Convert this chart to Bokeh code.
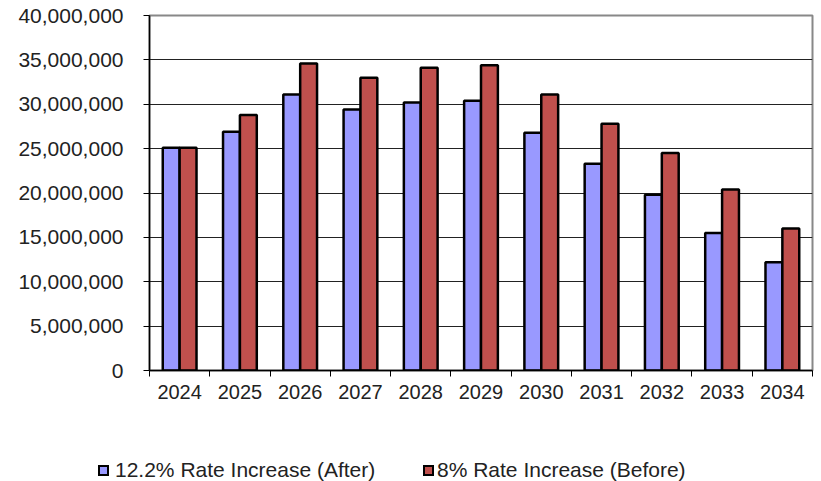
import numpy as np
from bokeh.plotting import figure
from bokeh.layouts import column
from bokeh.models import (ColumnDataSource, FixedTicker, NumeralTickFormatter,
                          Range1d, Div)
from bokeh.embed import file_html
from bokeh.resources import INLINE

years = ["2024", "2025", "2026", "2027", "2028", "2029", "2030", "2031", "2032", "2033", "2034"]
after_vals = [25.1e6, 26.9e6, 31.1e6, 29.4e6, 30.2e6, 30.4e6, 26.8e6, 23.3e6, 19.8e6, 15.5e6, 12.2e6]
before_vals = [25.1e6, 28.8e6, 34.6e6, 33.0e6, 34.1e6, 34.4e6, 31.1e6, 27.8e6, 24.5e6, 20.4e6, 16.0e6]
y_ticks = [0, 5e6, 10e6, 15e6, 20e6, 25e6, 30e6, 35e6, 40e6]
series_names = ["12.2% Rate Increase (After)", "8% Rate Increase (Before)"]

n = len(years)
centers = np.arange(n) + 0.5
src = ColumnDataSource(dict(
    xa=centers - 0.14, xb=centers + 0.14,
    after=after_vals, before=before_vals, year=years))

FONT = "Liberation Sans"
BLUE = "#9999FF"
RED = "#C0504D"

p = figure(width=821, height=440, output_backend="svg", toolbar_location=None,
           x_range=Range1d(0, n), y_range=Range1d(0, 40e6),
           min_border_left=149, min_border_right=9, min_border_top=15,
           min_border_bottom=70)
p.background_fill_color = "white"
p.border_fill_color = "white"
p.outline_line_color = "#888888"
p.outline_line_width = 2

p.vbar(x="xa", top="after", width=0.28, source=src,
       fill_color=BLUE, line_color="black", line_width=2.5)
p.vbar(x="xb", top="before", width=0.28, source=src,
       fill_color=RED, line_color="black", line_width=2.5)

# y axis
ya = p.yaxis[0]
ya.ticker = FixedTicker(ticks=y_ticks)
ya.formatter = NumeralTickFormatter(format="0,0")
ya.major_tick_out = 6
ya.major_tick_in = 0
ya.minor_tick_out = 0
ya.minor_tick_in = 0
ya.axis_line_color = "black"
ya.axis_line_width = 1.5
ya.major_tick_line_color = "black"
ya.major_label_standoff = 20
ya.major_label_text_font = FONT
ya.major_label_text_font_size = "21px"
ya.major_label_text_color = "#222222"

# x axis
xa = p.xaxis[0]
xa.ticker = FixedTicker(ticks=list(centers), minor_ticks=list(range(n + 1)))
xa.major_label_overrides = {float(c): y for c, y in zip(centers, years)}
xa.major_tick_out = 0
xa.major_tick_in = 0
xa.minor_tick_out = 6
xa.minor_tick_in = 0
xa.minor_tick_line_color = "black"
xa.axis_line_color = "black"
xa.axis_line_width = 1.5
xa.major_label_standoff = 8
xa.major_label_text_font = FONT
xa.major_label_text_font_size = "20px"
xa.major_label_text_color = "#222222"

p.xgrid.grid_line_color = None
p.ygrid.ticker = FixedTicker(ticks=y_ticks)
p.ygrid.grid_line_color = "#222222"
p.ygrid.grid_line_width = 1

# legend strip below the chart (HTML, real text)
def item(left_sq, left_txt, color, label):
    sq = (f'<div style="position:absolute;left:{left_sq}px;top:25px;width:11px;height:11px;'
          f'box-sizing:border-box;border:2px solid black;background:{color};"></div>')
    tx = (f'<div style="position:absolute;left:{left_txt}px;top:18px;line-height:24px;'
          f'white-space:nowrap;">{label}</div>')
    return sq + tx

html = ('<div style="position:relative;width:821px;height:41px;margin:0;padding:0;'
        f'font-family:\'{FONT}\';font-size:21px;color:#222222;">'
        + item(98, 115, BLUE, series_names[0])
        + item(423, 437, RED, series_names[1])
        + '</div>')
leg = Div(text=html, width=821, height=41, margin=0)

layout = column(p, leg, spacing=0)
open("out.html", "w").write(file_html(layout, INLINE))
